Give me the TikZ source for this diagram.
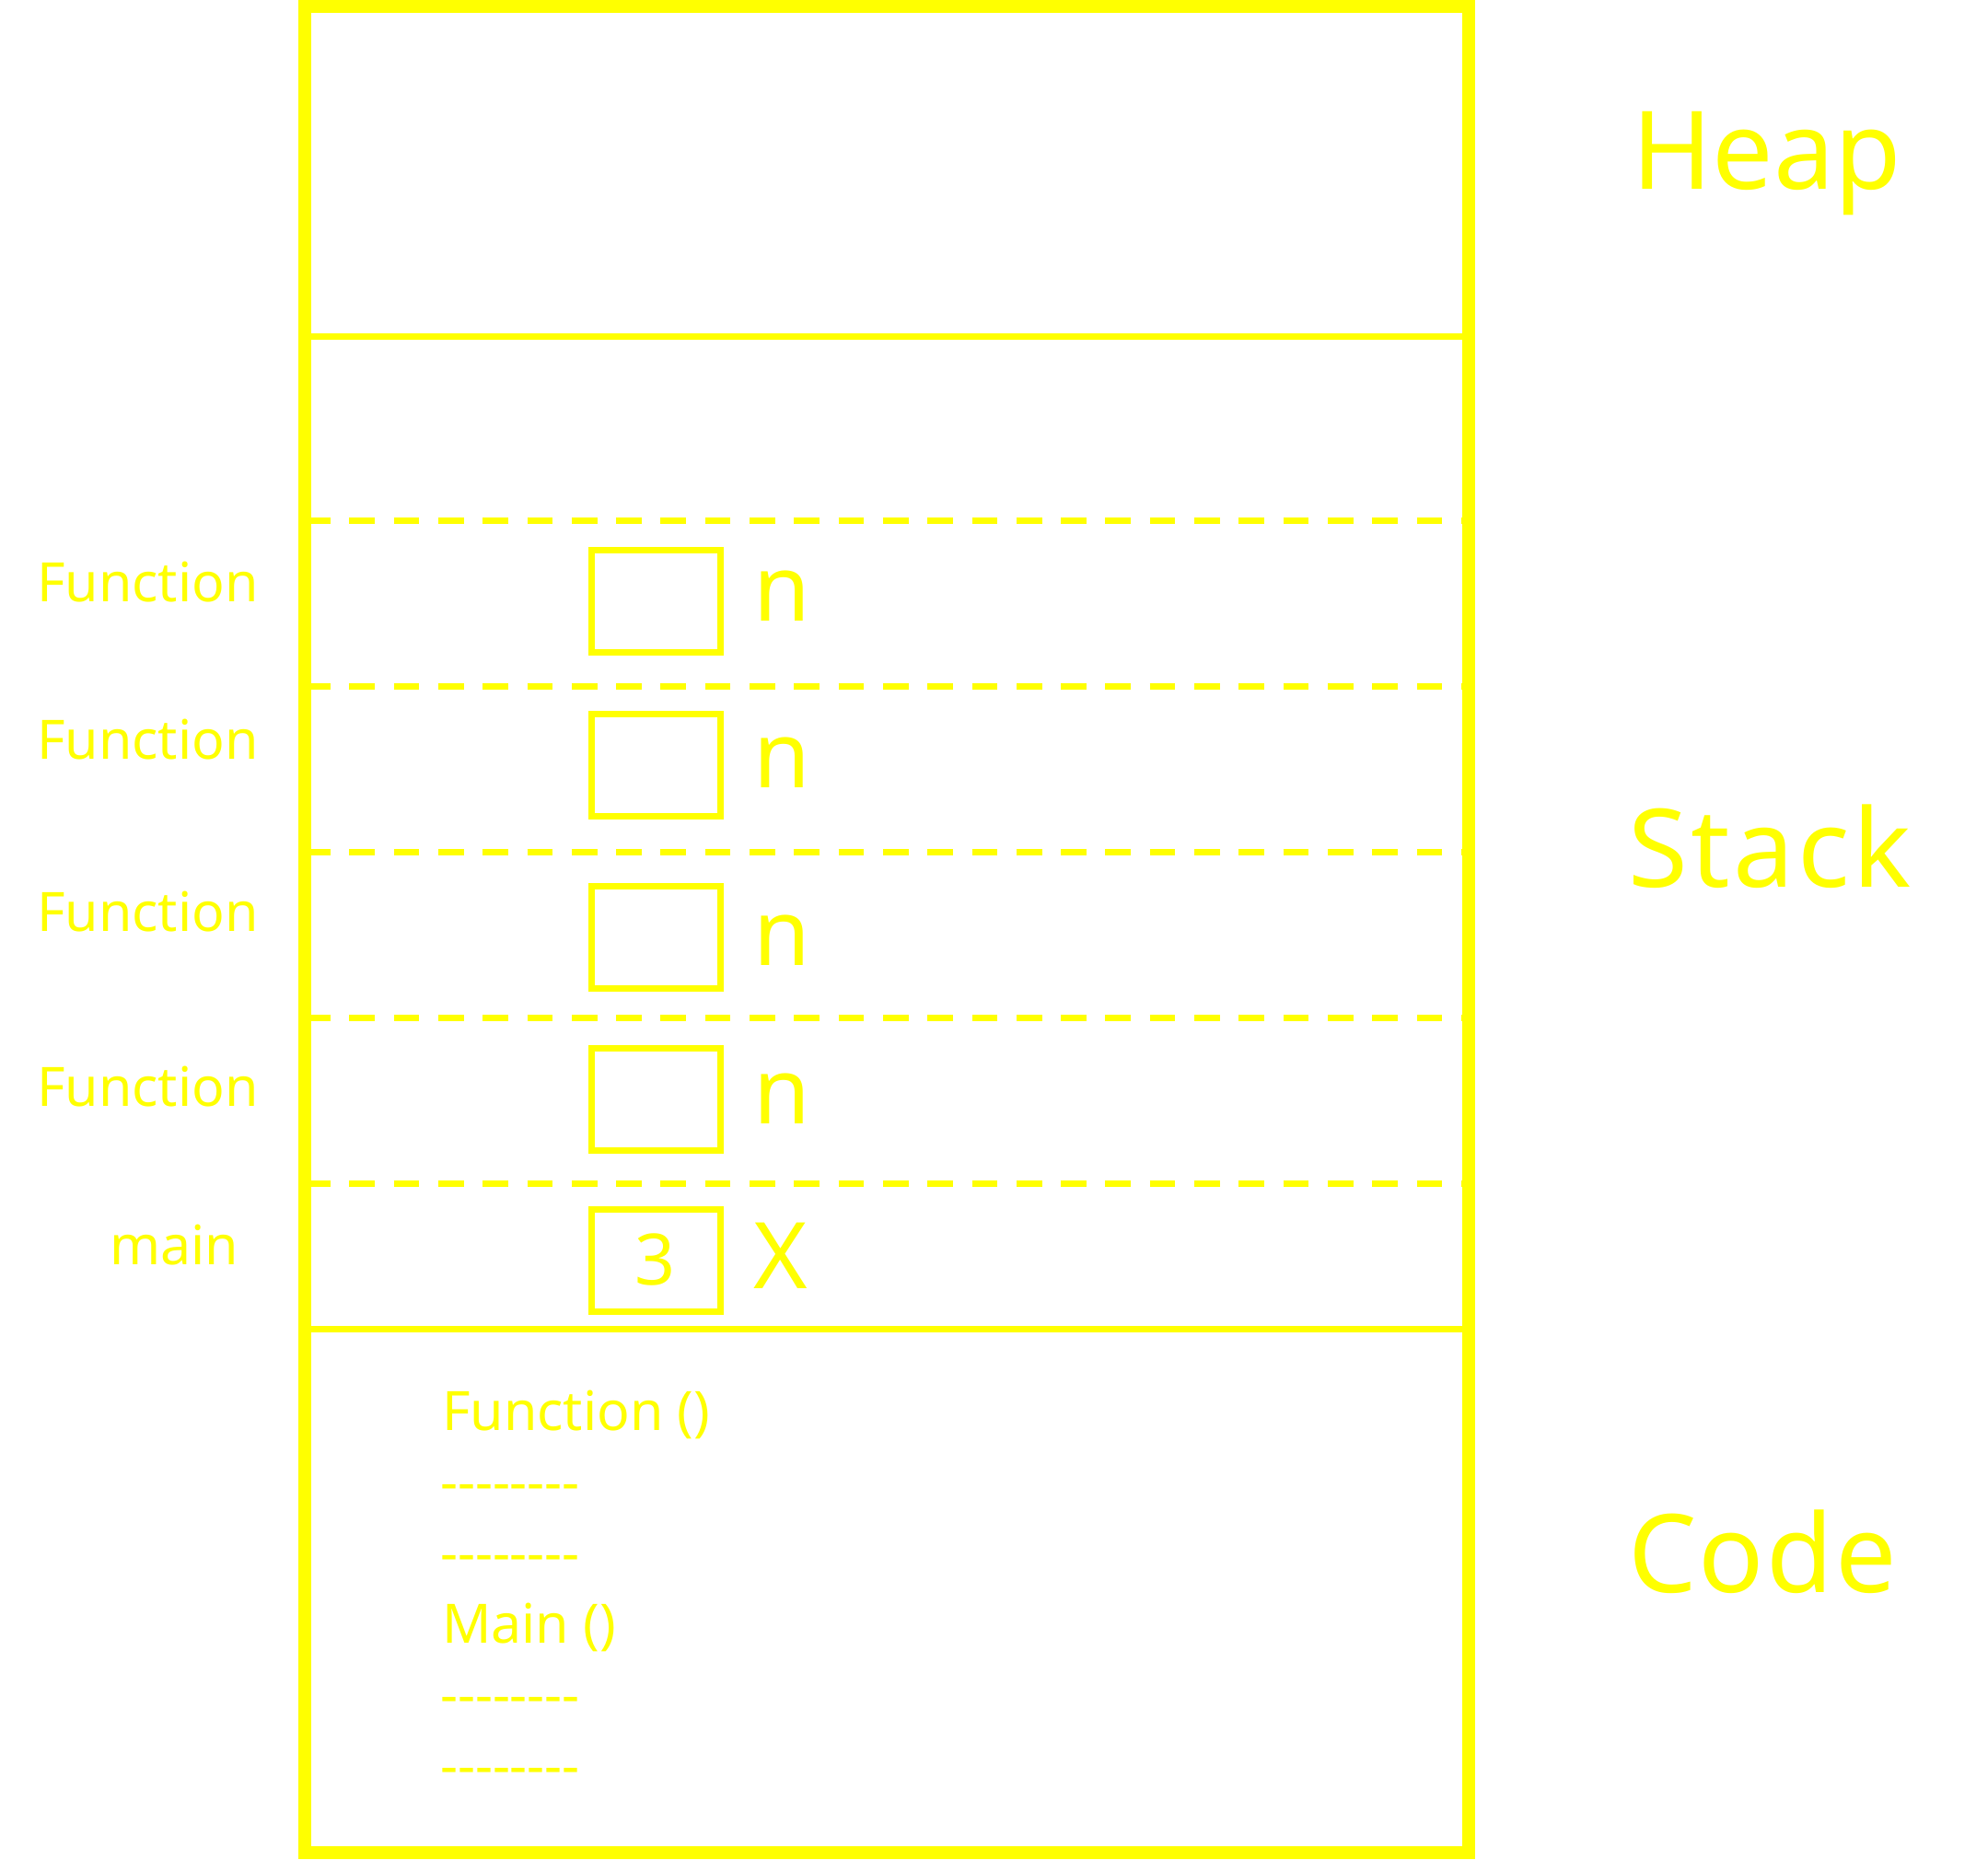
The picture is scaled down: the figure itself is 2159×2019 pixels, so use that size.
\documentclass[tikz,border=0pt]{standalone}
\usepackage{fontspec}
\setmainfont{Noto Sans}[Ligatures=TeXOff]
\definecolor{ylw}{HTML}{FFFF00}
\newcommand{\fs}[1]{\fontsize{#1}{#1}\selectfont}
\begin{document}
\begin{tikzpicture}[x=1pt,y=-1pt,
  txt/.style={inner sep=0pt, outer sep=0pt, text=ylw, anchor=base west},
  region/.style={txt, font=\fs{118}},
  fname/.style={txt, font=\fs{59}},
  varname/.style={txt, font=\fs{100}},
  codeline/.style={txt, font=\fs{59}},
  cell/.style={draw=ylw, line width=7pt, minimum width=140pt, minimum height=111pt, inner sep=0pt, outer sep=0pt},
  sep/.style={draw=ylw, line width=7pt},
  dsep/.style={draw=ylw, line width=7pt, dash pattern=on 27.7pt off 20.6pt},
  frame/.style={draw=ylw, line width=14pt}]
\useasboundingbox (0,0) rectangle (2159,2019);
% frame corners
\coordinate (tl) at (331,7);
\coordinate (br) at (1595,2012);
% dashed separators of the stack frames
\foreach \yy/\nm in {565/d1,745/d2,925/d3,1105.5/d4,1285.5/d5}{
  \coordinate (\nm l) at (331,\yy);
  \coordinate (\nm r) at (1590,\yy);
  \draw[dsep] (\nm l) -- (\nm r);
}
% solid separators
\coordinate (s1l) at (331,365);  \coordinate (s1r) at (1595,365);
\coordinate (s2l) at (331,1443.5); \coordinate (s2r) at (1595,1443.5);
\draw[sep] (s1l) -- (s1r);
\draw[sep] (s2l) -- (s2r);
% outer frame
\draw[frame] (tl) rectangle (br);
% cells
\node[cell] (c1) at (712,653) {};
\node[cell] (c2) at (712,831) {};
\node[cell] (c3) at (712,1017.5) {};
\node[cell] (c4) at (712,1193.5) {};
\node[cell] (c5) at (712,1369) {};
\node[txt, anchor=base, font=\fs{77}] (three) at (712,1395.5) {3};
% variable names
\node[varname] (n1) at (818,674) {n};
\node[varname] (n2) at (818,855) {n};
\node[varname] (n3) at (818,1048) {n};
\node[varname] (n4) at (818,1220) {n};
\node[varname] (xv) at (818,1399) {X};
% frame labels
\node[fname] (f1) at (40,653) {Function};
\node[fname] (f2) at (40,824) {Function};
\node[fname] (f3) at (40,1011) {Function};
\node[fname] (f4) at (40,1201) {Function};
\node[fname] (mn) at (119,1373) {main};
% code area
\node[codeline] (k1) at (480,1553) {Function ()};
\node[codeline] (k2) at (478,1630) {--------};
\node[codeline] (k3) at (478,1707) {--------};
\node[codeline] (k4) at (480,1784) {Main ()};
\node[codeline] (k5) at (478,1861) {--------};
\node[codeline] (k6) at (478,1938) {--------};
% region labels
\node[region] (heap) at (1772,205) {Heap};
\node[region] (stack) at (1768,963) {\addfontfeature{LetterSpace=3}Stack};
\node[region] (code) at (1768,1729) {\addfontfeature{LetterSpace=2}Code};
\end{tikzpicture}
\end{document}
